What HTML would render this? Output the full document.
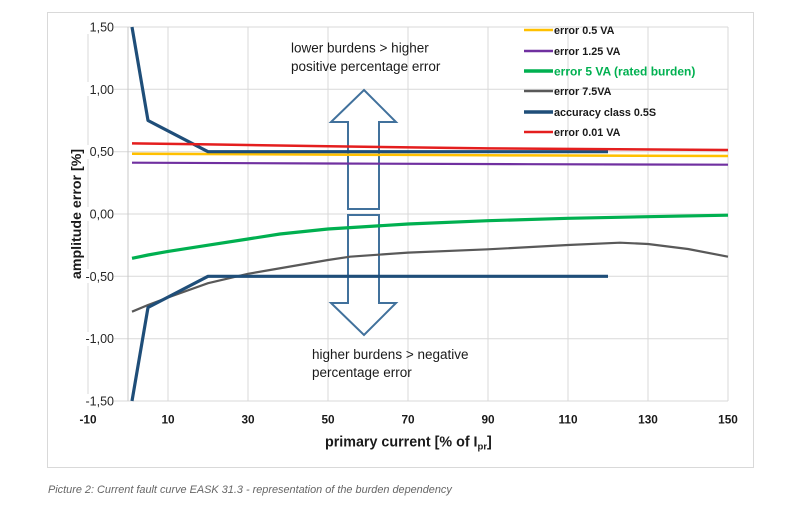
<!DOCTYPE html>
<html>
<head>
<meta charset="utf-8">
<style>
  html, body { margin: 0; padding: 0; background: #ffffff; }
  body { width: 800px; height: 506px; overflow: hidden; }
  svg { display: block; }
  text { font-family: "Liberation Sans", Arial, sans-serif; }
</style>
</head>
<body>
<svg width="800" height="506" viewBox="0 0 800 506" xmlns="http://www.w3.org/2000/svg">
  <rect x="0" y="0" width="800" height="506" fill="#ffffff"/>
  <!-- outer chart frame -->
  <rect x="47.5" y="12.5" width="706" height="455" fill="none" stroke="#d9d9d9" stroke-width="1"/>

  <!-- gridlines -->
  <g stroke="#d9d9d9" stroke-width="1">
    <line x1="88" y1="27" x2="728" y2="27"/>
    <line x1="88" y1="89.3" x2="728" y2="89.3"/>
    <line x1="88" y1="151.7" x2="728" y2="151.7"/>
    <line x1="88" y1="214" x2="728" y2="214"/>
    <line x1="88" y1="276.3" x2="728" y2="276.3"/>
    <line x1="88" y1="338.7" x2="728" y2="338.7"/>
    <line x1="88" y1="401" x2="728" y2="401"/>
    <line x1="88" y1="27" x2="88" y2="401"/>
    <line x1="168" y1="27" x2="168" y2="401"/>
    <line x1="248" y1="27" x2="248" y2="401"/>
    <line x1="328" y1="27" x2="328" y2="401"/>
    <line x1="408" y1="27" x2="408" y2="401"/>
    <line x1="488" y1="27" x2="488" y2="401"/>
    <line x1="568" y1="27" x2="568" y2="401"/>
    <line x1="648" y1="27" x2="648" y2="401"/>
    <line x1="728" y1="27" x2="728" y2="401"/>
  </g>
  <!-- y axis at x=0 -->
  <line x1="128" y1="27" x2="128" y2="401" stroke="#c8c8c8" stroke-width="1"/>

  <!-- y tick labels -->
  <g font-size="12.5" fill="#262626" text-anchor="end">
    <rect x="86" y="20" width="28" height="14" fill="#fff"/>
    <rect x="86" y="82" width="28" height="14" fill="#fff"/>
    <rect x="86" y="145" width="28" height="14" fill="#fff"/>
    <rect x="86" y="207" width="28" height="14" fill="#fff"/>
    <rect x="84" y="269" width="30" height="14" fill="#fff"/>
    <rect x="84" y="332" width="30" height="14" fill="#fff"/>
    <rect x="84" y="394" width="30" height="14" fill="#fff"/>
    <text x="114" y="31.5">1,50</text>
    <text x="114" y="93.8">1,00</text>
    <text x="114" y="156.2">0,50</text>
    <text x="114" y="218.5">0,00</text>
    <text x="114" y="280.8">-0,50</text>
    <text x="114" y="343.2">-1,00</text>
    <text x="114" y="405.5">-1,50</text>
  </g>

  <!-- x tick labels -->
  <g font-size="11.8" font-weight="bold" fill="#1a1a1a" text-anchor="middle">
    <text x="88" y="423.5">-10</text>
    <text x="168" y="423.5">10</text>
    <text x="248" y="423.5">30</text>
    <text x="328" y="423.5">50</text>
    <text x="408" y="423.5">70</text>
    <text x="488" y="423.5">90</text>
    <text x="568" y="423.5">110</text>
    <text x="648" y="423.5">130</text>
    <text x="728" y="423.5">150</text>
  </g>

  <!-- axis titles -->
  <text x="325" y="446.5" font-size="14.3" font-weight="bold" fill="#1a1a1a">primary current [% of I<tspan font-size="9.5" dy="3">pr</tspan><tspan dy="-3">]</tspan></text>
  <text transform="translate(81,214) rotate(-90)" font-size="14.2" font-weight="bold" fill="#1a1a1a" text-anchor="middle">amplitude error [%]</text>

  <!-- arrows -->
  <g fill="none" stroke="#41719c" stroke-width="2" stroke-linejoin="miter">
    <polygon points="364,90 396,122 379,122 379,209 348,209 348,122 331,122"/>
    <polygon points="348,215 379,215 379,303 396,303 364,335 331,303 348,303"/>
  </g>

  <!-- annotations -->
  <g font-size="13.5" fill="#1a1a1a">
    <text x="291" y="52.5">lower burdens &gt; higher</text>
    <text x="291" y="71">positive percentage error</text>
    <text x="312" y="359">higher burdens &gt; negative</text>
    <text x="312" y="377">percentage error</text>
  </g>

  <!-- series -->
  <g fill="none" stroke-linejoin="round" stroke-linecap="butt">
    <!-- purple 1.25 VA -->
    <polyline stroke="#7030a0" stroke-width="2.2" points="132,162.7 328,163.5 528,164.2 728,164.7"/>
    <!-- yellow 0.5 VA -->
    <polyline stroke="#ffc000" stroke-width="2.5" points="132,153.7 328,154.6 528,155.4 728,156"/>
    <!-- accuracy class upper -->
    <polyline stroke="#1f4e79" stroke-width="3.2" points="132,27 148,120.5 208,151.7 608,151.7"/>
    <!-- red 0.01 VA -->
    <polyline stroke="#e41e1e" stroke-width="2.5" points="132,143.4 208,144.4 328,146.3 488,148.4 728,150"/>
    <!-- green 5 VA -->
    <polyline stroke="#00b050" stroke-width="3.2" points="132,258.3 148,255 168,251.4 208,245.2 248,239 280,234 328,229 408,224 488,220.7 568,218.3 648,216.7 728,215.2"/>
    <!-- gray 7.5 VA -->
    <polyline stroke="#595959" stroke-width="2.2" points="132,311.7 148,305 168,297.5 208,283.2 248,273.8 270,270 328,260 350,256.7 408,252.6 488,249.3 568,245 620,242.7 648,244 688,249 728,256.7"/>
    <!-- accuracy class lower -->
    <polyline stroke="#1f4e79" stroke-width="3.2" points="132,401 148,307.5 208,276.3 608,276.3"/>
  </g>

  <!-- legend -->
  <g stroke-width="3">
    <line x1="524" y1="30" x2="553" y2="30" stroke="#ffc000" stroke-width="2.5"/>
    <line x1="524" y1="51" x2="553" y2="51" stroke="#7030a0" stroke-width="2.5"/>
    <line x1="524" y1="71" x2="553" y2="71" stroke="#00b050" stroke-width="3.5"/>
    <line x1="524" y1="91" x2="553" y2="91" stroke="#595959" stroke-width="2.5"/>
    <line x1="524" y1="112" x2="553" y2="112" stroke="#1f4e79" stroke-width="3.5"/>
    <line x1="524" y1="132" x2="553" y2="132" stroke="#e41e1e" stroke-width="2.5"/>
  </g>
  <g font-size="10.8" font-weight="bold" fill="#1a1a1a">
    <text x="554" y="34">error 0.5 VA</text>
    <text x="554" y="55">error 1.25 VA</text>
    <text x="554" y="75.5" font-size="12" fill="#00b050">error 5 VA (rated burden)</text>
    <text x="554" y="95">error 7.5VA</text>
    <text x="554" y="116">accuracy class 0.5S</text>
    <text x="554" y="136">error 0.01 VA</text>
  </g>

  <!-- caption -->
  <text x="48" y="493" font-size="10.9" font-style="italic" fill="#666666">Picture 2: Current fault curve EASK 31.3 - representation of the burden dependency</text>
</svg>
</body>
</html>
